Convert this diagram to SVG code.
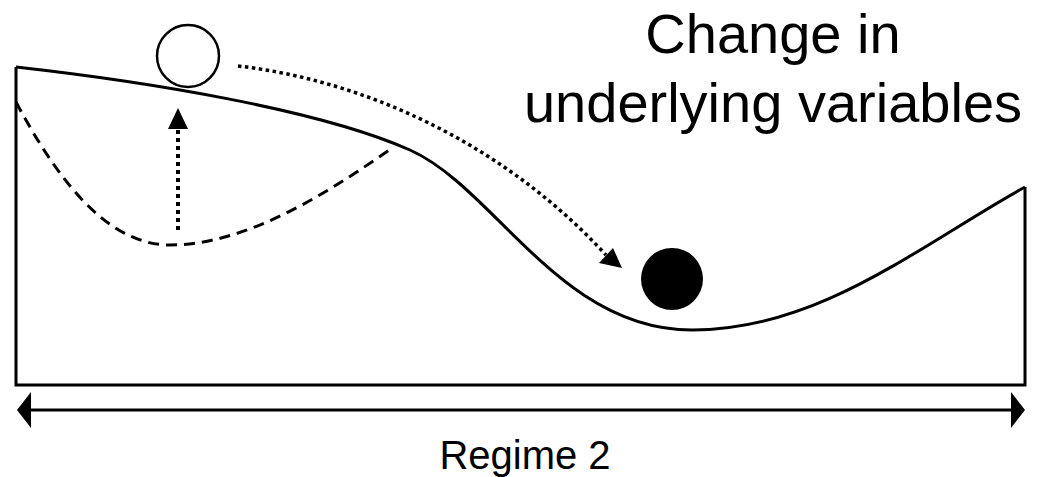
<svg xmlns="http://www.w3.org/2000/svg" width="1041" height="477" viewBox="0 0 1041 477">
<style>
.ln{fill:none;stroke:#000;stroke-width:3}
.txt{font-family:"Liberation Sans",Arial,sans-serif;fill:#000;text-anchor:middle}
</style>
<rect width="1041" height="477" fill="#fff"/>
<g id="landscape">
<path class="ln" d="M16,67 L16,385 L1025,385 L1025,187"/>
<path class="ln" d="M16,67 C150,82 320,110 410,150 C495,188 560,330 692,330 C820,330 920,245 1025,187"/>
<path fill="none" stroke="#000" stroke-width="3" stroke-dasharray="11 7" d="M16,102 C55,175 105,245 170,245 C245,245 325,195 392,148"/>
</g>
<g id="ball-old"><circle cx="188" cy="56" r="31" fill="#fff" stroke="#000" stroke-width="2.5"/></g>
<g id="ball-new"><circle cx="672" cy="279" r="31" fill="#000"/></g>
<g id="connectors">
<path fill="none" stroke="#000" stroke-width="4" stroke-dasharray="4 4" d="M178,230 L178,128"/>
<polygon points="178,108 168,129 188,129" fill="#000"/>
<path fill="none" stroke="#000" stroke-width="3.5" stroke-dasharray="3.5 3.5" d="M238,66 C360,80 500,140 606,255"/>
<polygon points="622,268 599,263 613,248" fill="#000"/>
<path class="ln" d="M30,410 L1012,410"/>
<polygon points="17,410 31,392 31,428" fill="#000"/>
<polygon points="1025,410 1011,392 1011,428" fill="#000"/>
</g>
<g id="labels">
<text class="txt" x="773" y="53" font-size="56">Change in</text>
<text class="txt" x="773" y="122" font-size="56">underlying variables</text>
<text class="txt" x="525" y="469" font-size="40">Regime 2</text>
</g>
</svg>
